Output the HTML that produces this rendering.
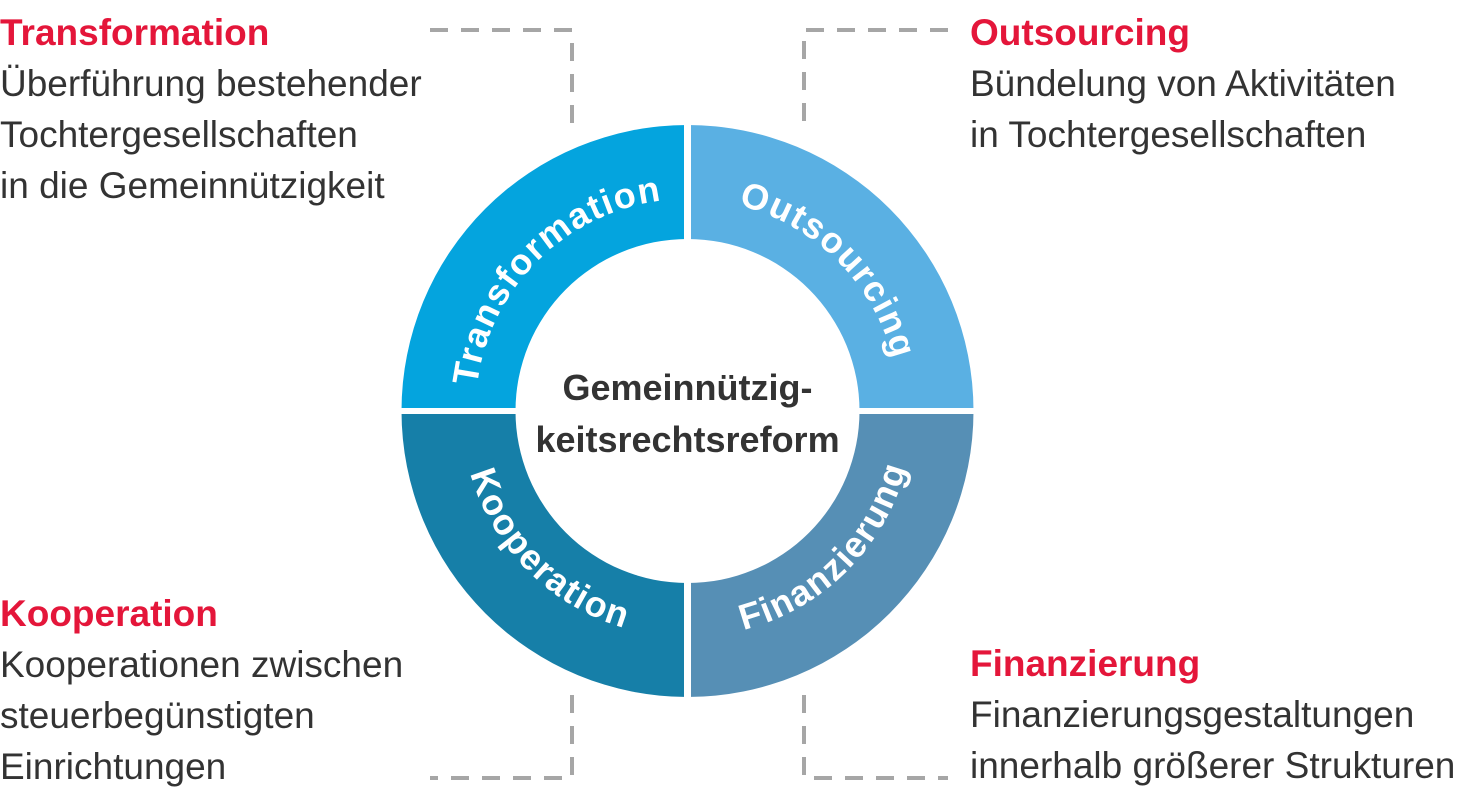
<!DOCTYPE html>
<html><head><meta charset="utf-8"><style>
html,body{margin:0;padding:0;background:#fff;}
body{width:1468px;height:796px;position:relative;overflow:hidden;font-family:"Liberation Sans",sans-serif;}
.t{position:absolute;font-size:37px;line-height:51px;color:#333;white-space:nowrap;}
.h{font-weight:bold;color:#e4163a;}
</style></head><body>
<svg width="1468" height="796" style="position:absolute;left:0;top:0">
<g fill="none" stroke="#a6a6a6" stroke-width="4" stroke-dasharray="18,13">
<path d="M430 30 H572 V125"/>
<path d="M948 30 H804 V125"/>
<path d="M572 695 V778 H430"/>
<path d="M804 695 V778 H948"/>
</g>
<g transform="translate(687.5,411)">
<path d="M-286 0 A286 286 0 0 1 0 -286 L0 -172 A172 172 0 0 0 -172 0Z" fill="#04a4de"/>
<path d="M0 -286 A286 286 0 0 1 286 0 L172 0 A172 172 0 0 0 0 -172Z" fill="#5ab0e3"/>
<path d="M286 0 A286 286 0 0 1 0 286 L0 172 A172 172 0 0 0 172 0Z" fill="#568fb5"/>
<path d="M0 286 A286 286 0 0 1 -286 0 L-172 0 A172 172 0 0 0 0 172Z" fill="#167fa8"/>
<rect x="-300" y="-3" width="600" height="6" fill="#fff"/>
<rect x="-3.5" y="-300" width="7" height="600" fill="#fff"/>
<defs>
<path id="a1" d="M-212 0 A212 212 0 0 1 0 -212"/>
<path id="a2" d="M0 -212 A212 212 0 0 1 212 0"/>
<path id="a3" d="M0 226 A226 226 0 0 0 226 0"/>
<path id="a4" d="M-226 0 A226 226 0 0 0 0 226"/>
</defs>
<g fill="#fff" font-weight="bold" font-size="36" letter-spacing="1.5" font-family="Liberation Sans,sans-serif" text-anchor="middle">
<text><textPath href="#a1" startOffset="50%">Transformation</textPath></text>
<text><textPath href="#a2" startOffset="50%">Outsourcing</textPath></text>
<text><textPath href="#a3" startOffset="50%">Finanzierung</textPath></text>
<text><textPath href="#a4" startOffset="50%">Kooperation</textPath></text>
</g>
<g fill="#333" font-weight="bold" font-size="36" font-family="Liberation Sans,sans-serif" text-anchor="middle">
<text x="0" y="-11">Gemeinnützig-</text>
<text x="0" y="41">keitsrechtsreform</text>
</g>
</g>
</svg>
<div class="t" style="left:0;top:7px"><span class="h">Transformation</span><br>Überführung bestehender<br>Tochtergesellschaften<br>in die Gemeinnützigkeit</div>
<div class="t" style="left:970px;top:7px"><span class="h">Outsourcing</span><br>Bündelung von Aktivitäten<br>in Tochtergesellschaften</div>
<div class="t" style="left:0;top:588px"><span class="h">Kooperation</span><br>Kooperationen zwischen<br>steuerbegünstigten<br>Einrichtungen</div>
<div class="t" style="left:970px;top:638px"><span class="h">Finanzierung</span><br>Finanzierungsgestaltungen<br>innerhalb größerer Strukturen</div>
</body></html>
